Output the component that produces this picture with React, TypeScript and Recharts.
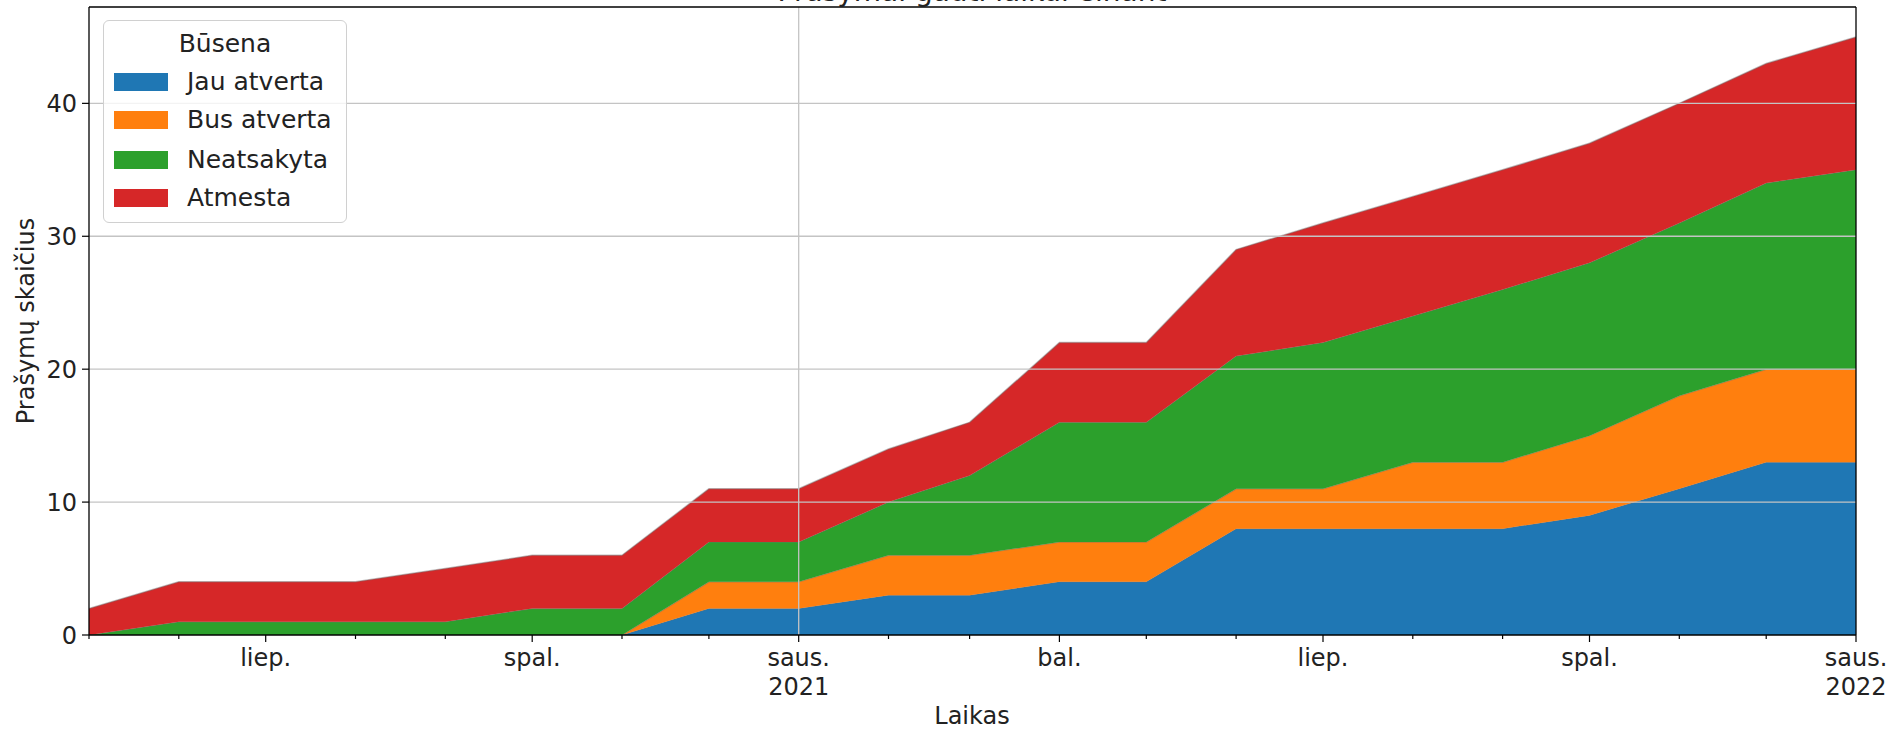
import { AreaChart, Area, XAxis, YAxis, ReferenceLine } from "recharts";

// monthly cumulative request counts by status
const months = [
    "2020-05", "2020-06", "2020-07", "2020-08", "2020-09", "2020-10", "2020-11", "2020-12",
    "2021-01", "2021-02", "2021-03", "2021-04", "2021-05", "2021-06", "2021-07", "2021-08",
    "2021-09", "2021-10", "2021-11", "2021-12", "2022-01",
];
const jauAtverta = [0, 0, 0, 0, 0, 0, 0, 2, 2, 3, 3, 4, 4, 8, 8, 8, 8, 9, 11, 13, 13];
const busAtverta = [0, 0, 0, 0, 0, 0, 0, 2, 2, 3, 3, 3, 3, 3, 3, 5, 5, 6, 7, 7, 7];
const neatsakyta = [0, 1, 1, 1, 1, 2, 2, 3, 3, 4, 6, 9, 9, 10, 11, 11, 13, 13, 13, 14, 15];
const atmesta = [2, 3, 3, 3, 4, 4, 4, 4, 4, 4, 4, 6, 6, 8, 9, 9, 9, 9, 9, 9, 10];

const yTicks = [0, 10, 20, 30, 40];
const monthNames = ["saus.", "vas.", "kov.", "bal.", "geg.", "birž.", "liep.", "rugp.", "rugs.", "spal.", "lapkr.", "gruod."];

const series = [
    { key: "jau", name: "Jau atverta", color: "#1f77b4" },
    { key: "bus", name: "Bus atverta", color: "#ff7f0e" },
    { key: "neat", name: "Neatsakyta", color: "#2ca02c" },
    { key: "atm", name: "Atmesta", color: "#d62728" },
];

const DAY = 86400000;
const toDay = (m: string) => {
    const [y, mo] = m.split("-").map(Number);
    return Date.UTC(y, mo - 1, 1) / DAY;
};

const data = months.map((m, i) => ({
    t: toDay(m),
    jau: jauAtverta[i],
    bus: busAtverta[i],
    neat: neatsakyta[i],
    atm: atmesta[i],
}));

const monthTicks = data.map(d => d.t);
const totals = data.map(d => d.jau + d.bus + d.neat + d.atm);
const yMax = Math.max(...totals) * 1.05;
const xMin = monthTicks[0];
const xMax = monthTicks[monthTicks.length - 1];
const yearGrid = toDay("2021-01");

const FONT = "DejaVu Sans";

function MonthTick({ x, y, payload }: any) {
    const d = new Date(payload.value * DAY);
    const m = d.getUTCMonth();
    const major = m % 3 === 0;
    return (
        <g>
            <line x1={x} y1={y} x2={x} y2={y + (major ? 7 : 4)} stroke="#000" strokeWidth={1.2} />
            {major && (
                <text x={x} y={y + 31} textAnchor="middle" fontSize={24} fill="#222" fontFamily={FONT}>
                    <tspan x={x}>{monthNames[m]}</tspan>
                    {m === 0 && <tspan x={x} dy={29}>{d.getUTCFullYear()}</tspan>}
                </text>
            )}
        </g>
    );
}

export default function App() {
    return (
        <div style={{ position: "absolute", left: 0, top: 0, width: 1891, height: 729, fontFamily: FONT, background: "#fff" }}>
            <AreaChart width={1891} height={729} data={data} margin={{ top: 7, right: 35, bottom: 0, left: 0 }}>
                <XAxis
                    dataKey="t"
                    type="number"
                    domain={[xMin, xMax]}
                    ticks={monthTicks}
                    interval={0}
                    height={94}
                    tickSize={0}
                    tickMargin={0}
                    tickLine={false}
                    axisLine={{ stroke: "#000", strokeWidth: 1.3 }}
                    tick={<MonthTick />}
                    allowDataOverflow
                />
                <YAxis
                    type="number"
                    domain={[0, yMax]}
                    ticks={yTicks}
                    width={89}
                    tickSize={7}
                    tickMargin={5}
                    tickLine={{ stroke: "#000", strokeWidth: 1.2 }}
                    axisLine={{ stroke: "#000", strokeWidth: 1.3 }}
                    tick={{ fontSize: 24, fill: "#222", fontFamily: FONT }}
                    allowDataOverflow
                />
                {series.map(s => (
                    <Area
                        key={s.key}
                        type="linear"
                        dataKey={s.key}
                        name={s.name}
                        stackId="a"
                        fill={s.color}
                        fillOpacity={1}
                        stroke="#6f6f6f"
                        strokeOpacity={0.45}
                        strokeWidth={1.5}
                        dot={false}
                        activeDot={false}
                        isAnimationActive={false}
                    />
                ))}
                {yTicks.slice(1).map(v => (
                    <ReferenceLine key={v} y={v} stroke="#c4c4c4" strokeWidth={1.3} />
                ))}
                <ReferenceLine x={yearGrid} stroke="#c4c4c4" strokeWidth={1.3} />
                <ReferenceLine y={yMax} stroke="#000" strokeWidth={1.3} />
                <ReferenceLine x={xMax} stroke="#000" strokeWidth={1.3} />
            </AreaChart>

            {/* title (cut off at the top), axis labels */}
            <svg width={1891} height={729} style={{ position: "absolute", left: 0, top: 0, pointerEvents: "none" }}>
                <text x={972} y={1} textAnchor="middle" fontSize={28} fill="#222" fontFamily={FONT}>
                    Prašymai gauti laikui einant
                </text>
                <text x={972} y={724} textAnchor="middle" fontSize={24} fill="#222" fontFamily={FONT}>
                    Laikas
                </text>
                <text
                    x={26}
                    y={321}
                    textAnchor="middle"
                    dominantBaseline="central"
                    fontSize={24}
                    fill="#222"
                    fontFamily={FONT}
                    transform="rotate(-90 26 321)"
                >
                    Prašymų skaičius
                </text>
            </svg>

            {/* legend */}
            <div
                style={{
                    position: "absolute",
                    left: 103,
                    top: 20,
                    width: 244,
                    height: 203,
                    boxSizing: "border-box",
                    border: "1.5px solid #d0d0d0",
                    borderRadius: 6,
                    background: "rgba(255,255,255,0.8)",
                    color: "#222",
                    fontSize: 25,
                }}
            >
                <div style={{ position: "absolute", left: 0, right: 0, top: 7, height: 32, lineHeight: "32px", textAlign: "center" }}>
                    Būsena
                </div>
                {series.map((s, i) => {
                    const cy = [60.7, 99.3, 138.7, 177.3][i];
                    return (
                        <div key={s.key}>
                            <div style={{ position: "absolute", left: 10, top: cy - 9, width: 54, height: 18, background: s.color }} />
                            <div style={{ position: "absolute", left: 83, top: cy - 16, height: 32, lineHeight: "32px", whiteSpace: "nowrap" }}>
                                {s.name}
                            </div>
                        </div>
                    );
                })}
            </div>
        </div>
    );
}
